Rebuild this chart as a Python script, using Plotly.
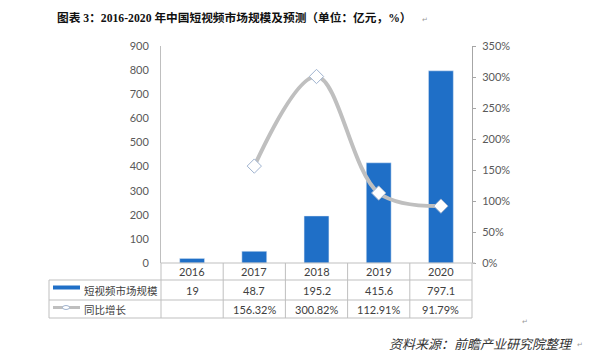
import plotly.graph_objects as go

# ---------------- data ----------------
years = ["2016", "2017", "2018", "2019", "2020"]
market_size = [19, 48.7, 195.2, 415.6, 797.1]          # 亿元
yoy_growth = [None, 1.5632, 3.0082, 1.1291, 0.9179]     # ratio
series_names = ["短视频市场规模", "同比增长"]
title_text = "图表 3：2016-2020 年中国短视频市场规模及预测（单位：亿元，%）"
source_text = "资料来源：前瞻产业研究院整理"

# ---------------- style / geometry ----------------
OFF = 8                      # default page body margin
W, H = 600 - OFF, 356 - OFF
L, R, T, B = 161, 472, 46, 263   # plot area in window pixels
BLUE = "#1f6fc7"
GREY_LINE = "#bfbfbf"
GRID = "#bfbfbf"
TXT = "#404040"
NUM_FONT = "Lato, Liberation Sans, sans-serif"
CJK_FONT = "Noto Sans CJK SC, sans-serif"


def px(p):
    return (p - L) / (R - L)


def py(p):
    return (B - p) / (B - T)


fig = go.Figure()
fig.add_bar(x=years, y=market_size, name=series_names[0], marker_color=BLUE,
            width=0.4, yaxis="y")
fig.add_scatter(x=years, y=yoy_growth, name=series_names[1], yaxis="y2",
                mode="lines+markers", connectgaps=False,
                line=dict(color=GREY_LINE, width=4, shape="spline", smoothing=1),
                marker=dict(symbol="diamond", size=11, color="white",
                            line=dict(color="#9fb3cf", width=1)))

shapes = []
annotations = []

row_lines = [280, 300, 318]
row_centers = [271.5, 290, 309]
leg_left = px(49)
n = len(years)
line_style = dict(color=GRID, width=1)

shapes.append(dict(type="line", xref="paper", yref="paper", x0=0, x1=px(475),
                   y0=0, y1=0, line=line_style))
for yl in row_lines:
    shapes.append(dict(type="line", xref="paper", yref="paper",
                       x0=leg_left, x1=1, y0=py(yl), y1=py(yl), line=line_style))
for k in range(n + 1):
    shapes.append(dict(type="line", xref="paper", yref="paper",
                       x0=k / n, x1=k / n, y0=0, y1=py(row_lines[-1]),
                       line=line_style))
shapes.append(dict(type="line", xref="paper", yref="paper",
                   x0=leg_left, x1=leg_left, y0=py(row_lines[0]),
                   y1=py(row_lines[-1]), line=line_style))

# legend keys inside the table
shapes.append(dict(type="rect", xref="paper", yref="paper",
                   x0=px(53), x1=px(80), y0=py(289.5), y1=py(285.5),
                   fillcolor=BLUE, line=dict(width=0)))
shapes.append(dict(type="line", xref="paper", yref="paper",
                   x0=px(53), x1=px(80), y0=py(307.5), y1=py(307.5),
                   line=dict(color=GREY_LINE, width=3)))
shapes.append(dict(type="circle", xref="paper", yref="paper",
                   x0=px(62.5), x1=px(69.5), y0=py(305.5), y1=py(309.5),
                   fillcolor="white", line=dict(color="#9fb3cf", width=1)))

for name, rc in zip(series_names, row_centers[1:]):
    annotations.append(dict(text=name, xref="paper", yref="paper",
                            x=px(82), y=py(rc), xanchor="left",
                            yanchor="middle", showarrow=False,
                            font=dict(family=CJK_FONT, size=10.5, color=TXT)))

for i, (yr, v, g) in enumerate(zip(years, market_size, yoy_growth)):
    xc = (i + 0.5) / n
    cells = [yr, f"{v:g}", None if g is None else f"{g * 100:.2f}%"]
    for txt, rc in zip(cells, row_centers):
        if txt is None:
            continue
        annotations.append(dict(text=txt, xref="paper", yref="paper", x=xc,
                                y=py(rc), showarrow=False, xanchor="center",
                                yanchor="middle",
                                font=dict(family=NUM_FONT, size=11, color=TXT)))

# title
annotations.append(dict(text="<b>" + title_text + "</b>", xref="paper",
                        yref="paper", x=px(55), y=py(18), xanchor="left",
                        yanchor="middle", showarrow=False,
                        font=dict(family="Liberation Serif, Noto Sans CJK SC, serif",
                                  size=11.7, color="#111111")))
annotations.append(dict(text="↵", xref="paper", yref="paper", x=px(420),
                        y=py(20), xanchor="left", yanchor="middle",
                        showarrow=False,
                        font=dict(family="DejaVu Sans", size=7, color="#999999")))
# source
annotations.append(dict(text="<i>" + source_text + "</i>", xref="paper",
                        yref="paper", x=px(387), y=py(343), xanchor="left",
                        yanchor="middle", showarrow=False,
                        font=dict(family=CJK_FONT, size=13, color="#333333")))
annotations.append(dict(text="↵", xref="paper", yref="paper", x=px(575),
                        y=py(345), xanchor="left", yanchor="middle",
                        showarrow=False,
                        font=dict(family="DejaVu Sans", size=7, color="#999999")))
annotations.append(dict(text="↵", xref="paper", yref="paper", x=px(520),
                        y=py(322), xanchor="left", yanchor="middle",
                        showarrow=False,
                        font=dict(family="DejaVu Sans", size=7, color="#999999")))

fig.update_layout(
    width=W, height=H,
    margin=dict(l=L - OFF, r=W - (R - OFF), t=T - OFF, b=H - (B - OFF), pad=0),
    paper_bgcolor="white", plot_bgcolor="white",
    showlegend=False,
    xaxis=dict(type="category", range=[-0.5, n - 0.5], showticklabels=False,
               showgrid=False, zeroline=False, showline=False, ticks=""),
    yaxis=dict(range=[0, 900], dtick=100, showgrid=False, zeroline=False,
               showline=True, linecolor="#bfbfbf", linewidth=1, ticks="",
               ticklabelstandoff=9,
               tickfont=dict(family=NUM_FONT, size=11, color="#595959")),
    yaxis2=dict(range=[0, 3.5], dtick=0.5, tickformat=".0%", overlaying="y",
                side="right", showgrid=False, zeroline=False, showline=True,
                linecolor="#a6a6a6", linewidth=1, ticks="outside", ticklen=3,
                tickcolor="#a6a6a6", ticklabelstandoff=4,
                tickfont=dict(family=NUM_FONT, size=11, color="#595959")),
    shapes=shapes,
    annotations=annotations,
)

fig.write_html("out.html")
